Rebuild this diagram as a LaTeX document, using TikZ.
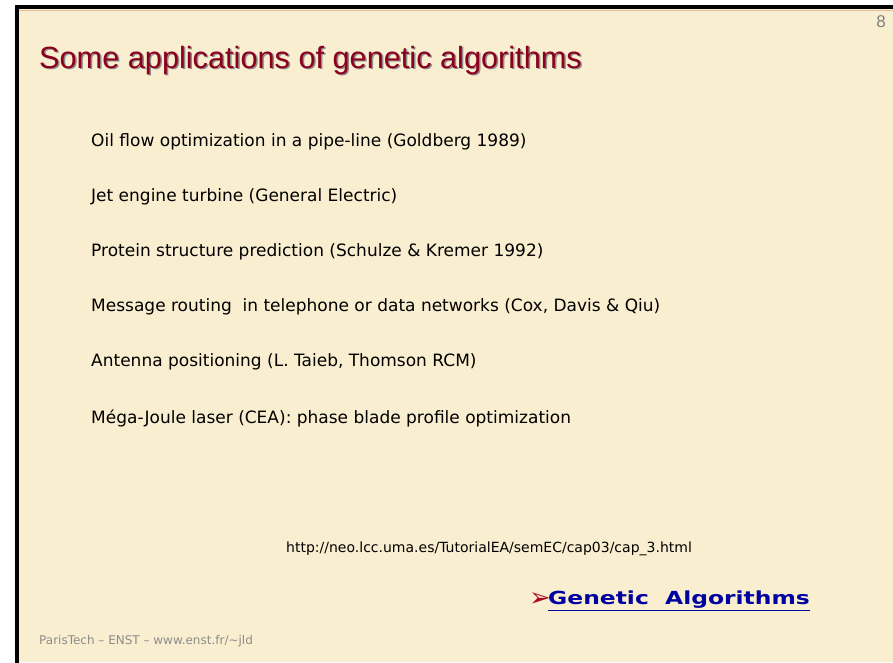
\documentclass[tikz,border=0pt]{standalone}
\usepackage{fontspec}
\setmainfont{DejaVu Sans}
\newfontfamily\titlefont{Liberation Sans}
\newfontfamily\symfont{DejaVu Sans}
\definecolor{parch}{RGB}{250,238,208}
\definecolor{titlered}{RGB}{140,0,30}
\definecolor{linkblue}{RGB}{0,0,160}
\definecolor{arrowred}{RGB}{170,10,30}
\definecolor{footgray}{RGB}{140,140,140}
\tikzset{
  body/.style={anchor=west, inner sep=0pt, font=\fontsize{17}{20}\selectfont, text=black},
  ttl/.style={anchor=west, inner sep=0pt, font=\titlefont\fontsize{30.7}{34}\selectfont},
}
\begin{document}
\begin{tikzpicture}[x=1pt,y=-1pt]
\useasboundingbox (0,0) rectangle (893,662);
\fill[white] (0,0) rectangle (893,662);
\fill[parch] (17,7) rectangle (893,662);
\draw[black, line width=4pt] (17,664) -- (17,7) -- (895,7);
\draw[brown!50, line width=1pt] (19,10) -- (895,10);
% page number
\node[anchor=east, inner sep=0pt, text=gray, font=\titlefont\fontsize{17}{19}\selectfont] (pg) at (886,22) {8};
% title with shadow
\node[ttl, text=black!45] (tshadow) at (40.5,62) {Some applications of genetic algorithms};
\node[ttl, text=titlered] (title) at (39,60.5) {Some applications of genetic algorithms};
% items
\node[body] (i1) at (91,142) {Oil flow optimization in a pipe-line (Goldberg 1989)};
\node[body] (i2) at (91,197) {Jet engine turbine (General Electric)};
\node[body] (i3) at (91,252) {Protein structure prediction (Schulze \& Kremer 1992)};
\node[body] (i4) at (91,307) {Message routing\ \ in telephone or data networks (Cox, Davis \& Qiu)};
\node[body] (i5) at (91,362) {Antenna positioning (L. Taieb, Thomson RCM)};
\node[body] (i6) at (91,418) {Méga-Joule laser (CEA): phase blade profile optimization};
% url
\node[body, font=\fontsize{14}{16}\selectfont] (url) at (286,549) {http://neo.lcc.uma.es/TutorialEA/semEC/cap03/cap\_3.html};
% link
\node[anchor=west, inner sep=0pt, text=arrowred, font=\symfont\fontsize{26}{28}\selectfont] (arr) at (529,600) {➢};
\node[anchor=west, inner sep=0pt, text=linkblue, font=\bfseries\fontsize{18}{21}\selectfont] (link) at (548,601) {\scalebox{1.3}[1]{\underline{Genetic\ \ Algorithms}}};
% footer
\node[anchor=west, inner sep=0pt, text=footgray, font=\fontsize{12}{14}\selectfont] (foot) at (39,641) {ParisTech – ENST – www.enst.fr/\textasciitilde jld};
\end{tikzpicture}
\end{document}
